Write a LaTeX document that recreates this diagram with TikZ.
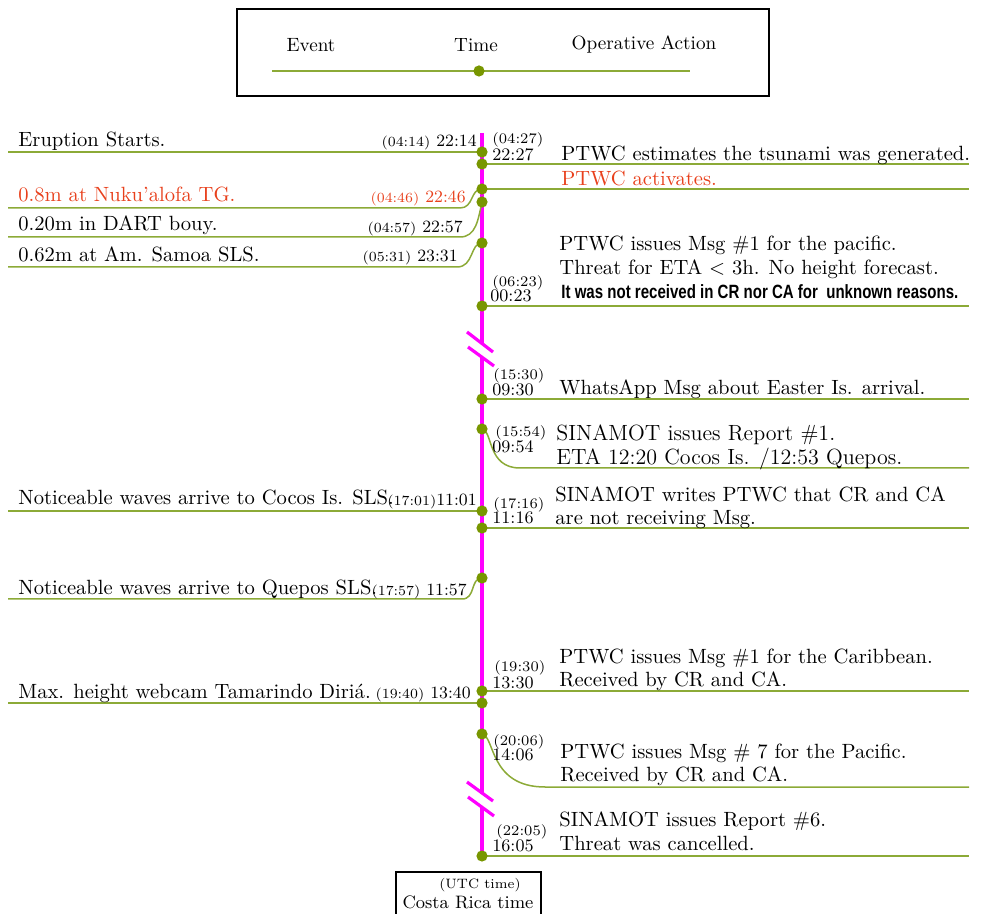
\documentclass[tikz,border=0pt]{standalone}
\usepackage{fontspec}
\usepackage{graphicx}
\usepackage{xcolor}
\usepackage{tikz}
\usetikzlibrary{
	arrows.meta,
	positioning
}
\newfontfamily\boldsans{Liberation Sans}
\definecolor{tlgreen}{RGB}{140,170,55}
\definecolor{dotgreen}{RGB}{120,150,0}
\definecolor{tlred}{RGB}{232,64,28}
\definecolor{tlmag}{RGB}{255,0,255}
\newcommand{\utc}[1]{{\fontsize{7}{9}\selectfont(#1)}}

\begin{document}
\begin{tikzpicture}[x=0.5pt, y=-0.5pt,
		axis/.style={tlmag, line width=1.6pt},
		link/.style={tlgreen, line width=0.75pt},
		tdot/.style={circle, fill=dotgreen, inner sep=0pt, minimum size=5.6pt},
		txt/.style={anchor=base west, inner sep=0pt, font=\fontsize{10.3}{12}\selectfont},
		bigtxt/.style={txt, font=\fontsize{11}{13}\selectfont},
		tleft/.style={anchor=base east, inner sep=0pt, font=\fontsize{8.6}{11}\selectfont},
		tright/.style={anchor=base west, inner sep=0pt, font=\fontsize{8.8}{11}\selectfont},
		uright/.style={anchor=base west, inner sep=0pt, font=\fontsize{7.3}{9}\selectfont},
		legtxt/.style={anchor=base, inner sep=0pt, font=\fontsize{9.6}{11}\selectfont},
		box/.style={line width=1.2pt}]
		\useasboundingbox (0,0) rectangle (981,914);
		\clip (0,0) rectangle (981,914);
		% legend
		\draw[box] (237,9) rectangle (769,96);
		\node[legtxt] (lgev) at (311,52) {Event};
		\node[legtxt] (lgtm) at (476,52) {Time};
		\node[legtxt] (lgop) at (644,50) {Operative Action};
		\coordinate (lgl) at (272,71);
		\coordinate (lgr) at (690,71);
		\draw[link] (lgl) -- (lgr);
		\node[tdot] (lgdot) at (479,71) {};
		% time points
		\coordinate (d1) at (482,152);
		\coordinate (d2) at (482,164);
		\coordinate (d3) at (482,189);
		\coordinate (d4) at (482,202);
		\coordinate (d5) at (482,243);
		\coordinate (d6) at (482,306);
		\coordinate (d7) at (482,399);
		\coordinate (d8) at (482,429);
		\coordinate (d9) at (482,511);
		\coordinate (d10) at (482,528);
		\coordinate (d11) at (482,578);
		\coordinate (d12) at (482,691);
		\coordinate (d13) at (482,703);
		\coordinate (d14) at (482,734);
		\coordinate (d15) at (482,856);
		% line ends
		\coordinate (l1) at (8,152);
		\coordinate (l3) at (8,208);
		\coordinate (l4) at (8,237);
		\coordinate (l5) at (8,267);
		\coordinate (l9) at (8,511);
		\coordinate (l11) at (8,599);
		\coordinate (l13) at (8,703);
		\coordinate (r2) at (969,164);
		\coordinate (r3) at (969,189);
		\coordinate (r6) at (969,306);
		\coordinate (r7) at (969,399);
		\coordinate (r8) at (969,468);
		\coordinate (r10) at (969,528);
		\coordinate (r12) at (969,691);
		\coordinate (r14) at (969,787);
		\coordinate (r15) at (969,856);
		% time axis with breaks
		\coordinate (axtop) at (482,133);
		\coordinate (ax1a) at (482,344);
		\coordinate (ax1b) at (482,357);
		\coordinate (ax2a) at (482,794);
		\coordinate (ax2b) at (482,807);
		\draw[axis] (axtop) -- (ax1a) (ax1b) -- (ax2a) (ax2b) -- (d15);
		\draw[axis] (467,332) -- (493,352) (468,347) -- (494,366);
		\draw[axis] (467,782) -- (493,801) (468,797) -- (494,816);
		% connectors
		\draw[link] (l1) -- (d1);
		\draw[link] (d2) -- (r2);
		\draw[link] (d3) -- (r3);
		\draw[link] (l3) -- (460,208) .. controls (474,208) and (470,189) .. (d3);
		\draw[link] (l4) -- (460,237) .. controls (476,237) and (478,220) .. (d4);
		\draw[link] (l5) -- (457,267) .. controls (474,267) and (470,243) .. (d5);
		\draw[link] (d6) -- (r6);
		\draw[link] (d7) -- (r7);
		\draw[link] (d8) .. controls (493,431) and (487,468) .. (520,468) -- (r8);
		\draw[link] (l9) -- (d9);
		\draw[link] (d10) -- (r10);
		\draw[link] (l11) -- (462,599) .. controls (476,599) and (470,578) .. (d11);
		\draw[link] (d12) -- (r12);
		\draw[link] (l13) -- (d13);
		\draw[link] (d14) .. controls (495,736) and (489,787) .. (545,787) -- (r14);
		\draw[link] (d15) -- (r15);
		\foreach \k in {1,...,15}
			\node[tdot] (dot\k) at (d\k) {};
		% events
		\node[txt] (ev1) at (18,147) {Eruption Starts.};
		\node[txt, tlred] (ev3) at (18,202) {0.8m at Nuku’alofa TG.};
		\node[txt] (ev4) at (18,231) {0.20m in DART bouy.};
		\node[txt] (ev5) at (18,262) {0.62m at Am. Samoa SLS.};
		\node[txt] (ev9) at (18,505) {Noticeable waves arrive to Cocos Is. SLS.};
		\node[txt] (ev11) at (18,595) {Noticeable waves arrive to Quepos SLS.};
		\node[txt] (ev13) at (18,698) {Max. height webcam Tamarindo Diriá.};
		\node[tleft] (tm1) at (477,147) {\utc{04:14} 22:14};
		\node[tleft, tlred] (tm3) at (466,203) {\utc{04:46} 22:46};
		\node[tleft] (tm4) at (463,233) {\utc{04:57} 22:57};
		\node[tleft] (tm5) at (458,262) {\utc{05:31} 23:31};
		\node[tleft] (tm9) at (477,506) {\utc{17:01}11:01};
		\node[tleft] (tm11) at (467,596) {\utc{17:57} 11:57};
		\node[tleft] (tm13) at (471,699) {\utc{19:40} 13:40};
		% operative actions
		\node[uright] (u2) at (492,144) {(04:27)};
		\node[tright] (t2) at (492,161) {22:27};
		\node[txt] (op2) at (561,161) {PTWC estimates the tsunami was generated.};
		\node[txt, tlred] (op3) at (561,186) {PTWC activates.};
		\node[uright] (u6) at (492,287) {(06:23)};
		\node[tright] (t6) at (490,302) {00:23};
		\node[txt] (op6a) at (559,251) {PTWC issues Msg \#1 for the pacific.};
		\node[txt] (op6b) at (559,275) {Threat for ETA < 3h. No height forecast.};
		\node[txt] (op6c) at (561,299) {\resizebox{198.5pt}{\height}{\boldsans\bfseries\fontsize{9.6}{11}\selectfont It was not received in CR nor CA for~ unknown reasons.}};
		\node[uright] (u7) at (493,380) {(15:30)};
		\node[tright] (t7) at (492,396) {09:30};
		\node[txt] (op7) at (559,395) {WhatsApp Msg about Easter Is. arrival.};
		\node[uright] (u8) at (495,437) {(15:54)};
		\node[tright] (t8) at (492,453) {09:54};
		\node[bigtxt] (op8a) at (556,441) {SINAMOT issues Report \#1.};
		\node[bigtxt] (op8b) at (556,465) {ETA 12:20 Cocos Is. /12:53 Quepos.};
		\node[uright] (u10) at (493,509) {(17:16)};
		\node[tright] (t10) at (492,524) {11:16};
		\node[txt] (op10a) at (555,502) {SINAMOT writes PTWC that CR and CA};
		\node[txt] (op10b) at (555,525) {are not receiving Msg.};
		\node[uright] (u12) at (494,672) {(19:30)};
		\node[tright] (t12) at (492,689) {13:30};
		\node[txt] (op12a) at (559,664) {PTWC issues Msg \#1 for the Caribbean.};
		\node[txt] (op12b) at (559,687) {Received by CR and CA.};
		\node[uright] (u14) at (493,746) {(20:06)};
		\node[tright] (t14) at (492,761) {14:06};
		\node[txt] (op14a) at (560,758) {PTWC issues Msg \# 7 for the Pacific.};
		\node[txt] (op14b) at (560,782) {Received by CR and CA.};
		\node[uright] (u15) at (496,835) {(22:05)};
		\node[tright] (t15) at (492,851) {16:05};
		\node[txt] (op15a) at (559,827) {SINAMOT issues Report \#6.};
		\node[txt] (op15b) at (559,850) {Threat was cancelled.};
		% time zone box
		\draw[box] (396,872) rectangle (541,940);
		\node[anchor=base, inner sep=0pt, font=\fontsize{6.8}{9}\selectfont] (utcbox) at (480,888) {(UTC time)};
		\node[anchor=base, inner sep=0pt, font=\fontsize{9}{11}\selectfont] (crbox) at (468,908) {Costa Rica time};
	\end{tikzpicture}
\end{document}
